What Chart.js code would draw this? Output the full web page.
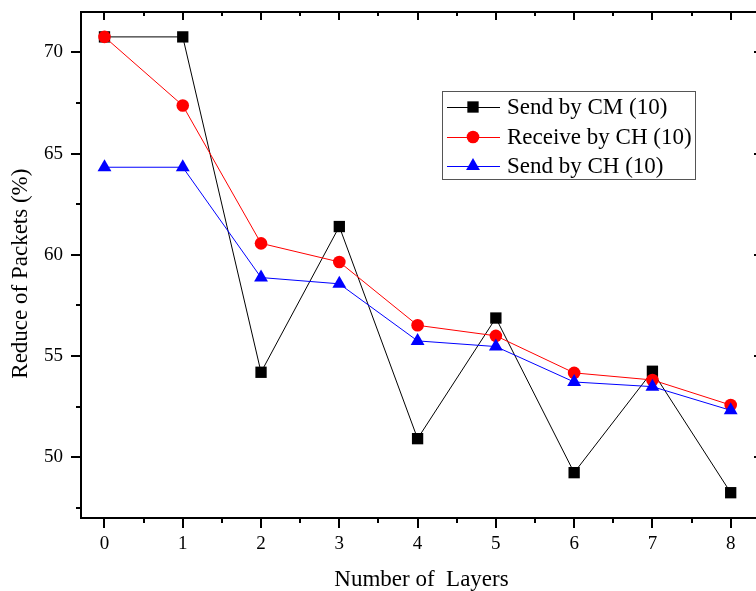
<!DOCTYPE html>
<html>
<head>
<meta charset="utf-8">
<title>Reduce of Packets</title>
<script src="https://cdn.jsdelivr.net/npm/chart.js@4.4.1/dist/chart.umd.min.js"></script>
<style>
  html, body { margin: 0; padding: 0; background: #fff; }
  body { width: 756px; height: 591px; overflow: hidden; }
  canvas { display: block; }
</style>
</head>
<body>
<canvas id="layersChart" width="770" height="591"></canvas>
<script>
// x categories: number of layers
const layers = [0, 1, 2, 3, 4, 5, 6, 7, 8];

// Reduce of packets (%) per series
const sendByCM    = [70.77, 70.77, 54.20, 61.40, 50.92, 56.88, 49.24, 54.25, 48.25];
const receiveByCH = [70.77, 67.38, 60.57, 59.65, 56.52, 56.00, 54.17, 53.82, 52.58];
const sendByCH    = [64.33, 64.33, 58.88, 58.57, 55.75, 55.47, 53.72, 53.49, 52.32];

// axis ticks
const xTicks = [0, 1, 2, 3, 4, 5, 6, 7, 8];
const xMinorTicks = [0.5, 1.5, 2.5, 3.5, 4.5, 5.5, 6.5, 7.5];
const yTicks = [50, 55, 60, 65, 70];
const yMinorTicks = [47.5, 52.5, 57.5, 62.5, 67.5];

const serif = '"Liberation Serif", "Times New Roman", serif';

function toPoints(values) {
  return layers.map((x, i) => ({ x: x, y: values[i] }));
}

// Box frame: top/right axis lines, inward ticks on top/right, minor ticks on bottom/left
const frameTicks = {
  id: 'frameTicks',
  afterDraw(chart) {
    const ctx = chart.ctx;
    const a = chart.chartArea;
    const xs = chart.scales.x, ys = chart.scales.y;
    ctx.save();
    ctx.lineWidth = 2;
    ctx.strokeStyle = '#000';
    ctx.beginPath();
    ctx.moveTo(a.left, a.top); ctx.lineTo(a.right, a.top);
    ctx.stroke();
    ctx.beginPath();
    ctx.moveTo(a.right, a.top); ctx.lineTo(a.right, a.bottom);
    ctx.stroke();

    ctx.beginPath();
    xTicks.forEach(v => {
      const px = Math.round(xs.getPixelForValue(v));
      ctx.moveTo(px, a.top); ctx.lineTo(px, a.top + 8);
    });
    xMinorTicks.forEach(v => {
      const px = Math.round(xs.getPixelForValue(v));
      ctx.moveTo(px, a.top); ctx.lineTo(px, a.top + 4);
      ctx.moveTo(px, a.bottom); ctx.lineTo(px, a.bottom + 5);
    });
    yMinorTicks.forEach(v => {
      const py = Math.round(ys.getPixelForValue(v));
      ctx.moveTo(a.left, py); ctx.lineTo(a.left - 5, py);
    });
    ctx.stroke();

    ctx.beginPath();
    yTicks.forEach(v => {
      const py = Math.round(ys.getPixelForValue(v));
      ctx.moveTo(a.right, py); ctx.lineTo(a.right - 8, py);
    });
    yMinorTicks.forEach(v => {
      const py = Math.round(ys.getPixelForValue(v));
      ctx.moveTo(a.right, py); ctx.lineTo(a.right - 4, py);
    });
    ctx.stroke();
    ctx.restore();
  }
};

function drawMarker(ctx, style, r, x, y, color) {
  ctx.fillStyle = color;
  ctx.beginPath();
  if (style === 'rect') {
    const s = r * Math.SQRT1_2;
    ctx.rect(x - s, y - s, 2 * s, 2 * s);
  } else if (style === 'triangle') {
    ctx.moveTo(x, y - r);
    ctx.lineTo(x + r * Math.sin(2 * Math.PI / 3), y - r * Math.cos(2 * Math.PI / 3));
    ctx.lineTo(x + r * Math.sin(4 * Math.PI / 3), y - r * Math.cos(4 * Math.PI / 3));
    ctx.closePath();
  } else {
    ctx.arc(x, y, r, 0, Math.PI * 2);
  }
  ctx.fill();
}

// Boxed legend inside the plot
const boxLegend = {
  id: 'boxLegend',
  afterDraw(chart) {
    const ctx = chart.ctx;
    const left = 442, top = 91, right = 695, bottom = 179;
    const rows = [107, 137, 166];
    ctx.save();
    ctx.fillStyle = '#fff';
    ctx.fillRect(left, top, right - left, bottom - top);
    ctx.strokeStyle = '#555';
    ctx.lineWidth = 1;
    ctx.strokeRect(left + 0.5, top + 0.5, right - left, bottom - top);
    chart.data.datasets.forEach((ds, i) => {
      const y = rows[i];
      ctx.strokeStyle = ds.borderColor;
      ctx.lineWidth = 1;
      ctx.beginPath();
      ctx.moveTo(447, y + 0.5); ctx.lineTo(500, y + 0.5);
      ctx.stroke();
      drawMarker(ctx, ds.pointStyle, ds.pointRadius, 473, y, ds.pointBackgroundColor);
      ctx.fillStyle = '#000';
      ctx.font = '23px ' + serif;
      ctx.textBaseline = 'middle';
      ctx.textAlign = 'left';
      ctx.fillText(ds.label, 507, y + 1);
    });
    ctx.restore();
  }
};

new Chart(document.getElementById('layersChart'), {
  type: 'line',
  data: {
    datasets: [
      {
        label: 'Send by CM (10)',
        data: toPoints(sendByCM),
        borderColor: '#000000',
        borderWidth: 1,
        pointStyle: 'rect',
        pointRadius: 8,
        pointBackgroundColor: '#000000',
        pointBorderWidth: 0,
        order: 3
      },
      {
        label: 'Receive by CH (10)',
        data: toPoints(receiveByCH),
        borderColor: '#ff0000',
        borderWidth: 1,
        pointStyle: 'circle',
        pointRadius: 6.3,
        pointBackgroundColor: '#ff0000',
        pointBorderWidth: 0,
        order: 2
      },
      {
        label: 'Send by CH (10)',
        data: toPoints(sendByCH),
        borderColor: '#0000ff',
        borderWidth: 1,
        pointStyle: 'triangle',
        pointRadius: 8,
        pointBackgroundColor: '#0000ff',
        pointBorderWidth: 0,
        order: 1
      }
    ]
  },
  options: {
    responsive: false,
    animation: false,
    layout: { padding: { top: 12, right: 8, left: 0, bottom: 0 } },
    plugins: {
      legend: { display: false },
      tooltip: { enabled: false }
    },
    scales: {
      x: {
        type: 'linear',
        min: -0.3,
        max: 8.4,
        afterBuildTicks: s => { s.ticks = xTicks.map(v => ({ value: v })); },
        afterFit: s => { s.height = 73; s.paddingLeft = 0; s.paddingRight = 0; },
        ticks: { color: '#000', font: { family: serif, size: 19 }, padding: 5 },
        grid: { drawOnChartArea: false, color: '#000', lineWidth: 2, tickLength: 10 },
        border: { color: '#000', width: 2 },
        title: {
          display: true,
          text: 'Number of  Layers',
          color: '#000',
          font: { family: serif, size: 23, lineHeight: 1 },
          padding: { top: 0, bottom: 0 }
        }
      },
      y: {
        min: 47,
        max: 72,
        afterBuildTicks: s => { s.ticks = yTicks.map(v => ({ value: v })); },
        afterFit: s => { s.width = 81; s.paddingTop = 0; s.paddingBottom = 0; },
        ticks: { color: '#000', font: { family: serif, size: 19 }, padding: 8 },
        grid: { drawOnChartArea: false, color: '#000', lineWidth: 2, tickLength: 10 },
        border: { color: '#000', width: 2 },
        title: {
          display: true,
          // trailing spaces push the rotated title a little lower
          text: 'Reduce of Packets (%)   ',
          color: '#000',
          font: { family: serif, size: 23, lineHeight: 1 },
          padding: { top: 9, bottom: 0 }
        }
      }
    }
  },
  plugins: [frameTicks, boxLegend]
});
</script>
</body>
</html>
